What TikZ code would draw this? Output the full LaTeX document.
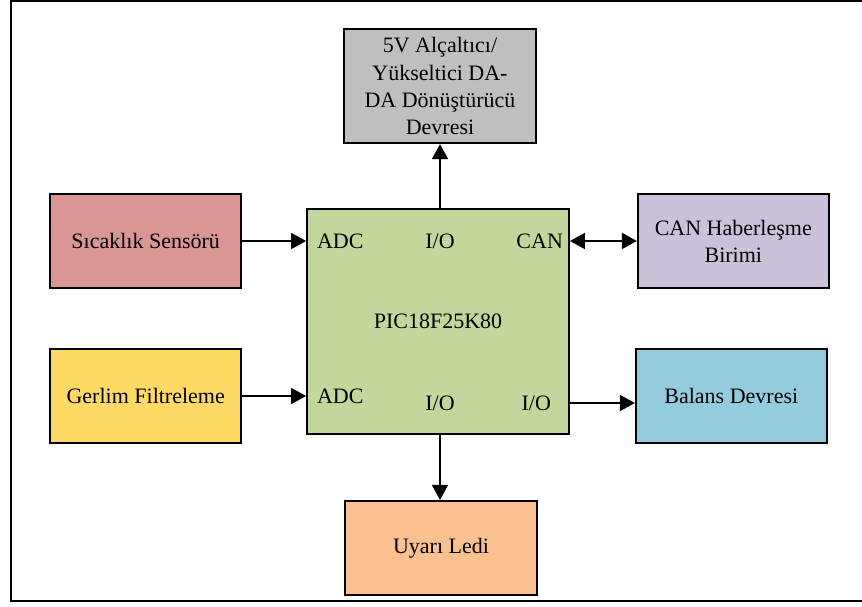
\documentclass[tikz,border=0pt]{standalone}
\usepackage{fontspec}
\setmainfont{Liberation Serif}
\usetikzlibrary{positioning,arrows.meta}

\definecolor{sensorred}{HTML}{D99694}
\definecolor{filteryellow}{HTML}{FFD966}
\definecolor{picgreen}{HTML}{C3D69B}
\definecolor{canpurple}{HTML}{CCC1DA}
\definecolor{balansblue}{HTML}{93CDDD}
\definecolor{ledorange}{HTML}{FAC090}
\definecolor{dcgrey}{HTML}{BFBFBF}

\begin{document}
\begin{tikzpicture}[
                x=0.5pt, y=-0.5pt,
                node distance=32pt,
                font=\fontsize{11}{13.6}\selectfont,
                block/.style={
                    rectangle,
                    draw,
                    line width=0.9pt,
                    align=center,
                    minimum width=95.5pt,
                    minimum height=47pt
                },
                label/.style={
                    inner sep=3.3pt
                },
                line/.style={
                    draw,
                    line width=0.8pt,
                    -{Triangle[length=7.5pt,width=8pt]}
                },
                frame/.style={
                    draw,
                    line width=1pt
                }]

                \useasboundingbox (0,0) rectangle (862,606);
                \draw [frame] (870,1) -- (11,1) -- (11,601) -- (870,601);

                \node [block, fill=picgreen, minimum width=131pt, minimum height=112.5pt] (pic) at (438,321.5) {PIC18F25K80};

                \node [block, fill=dcgrey, inner sep=1pt, minimum width=96pt, minimum height=57pt, above=32pt of pic, xshift=1pt] (donusturucu) {5V Alçaltıcı/\\Yükseltici DA-\\DA Dönüştürücü\\Devresi};
                \node [block, fill=ledorange, minimum width=96pt, below=32.5pt of pic, xshift=1.5pt] (uyari) {Uyarı Ledi};

                \node [block, fill=sensorred, left=32pt of pic, yshift=40.25pt] (sicaklik) {Sıcaklık Sensörü};
                \node [block, fill=filteryellow, left=32pt of pic, yshift=-37.25pt] (gerlim) {Gerlim Filtreleme};

                \node [block, fill=canpurple, right=33.5pt of pic, yshift=40.25pt] (can) {CAN Haberleşme\\Birimi};
                \node [block, fill=balansblue, right=32.5pt of pic, yshift=-37.25pt] (balans) {Balans Devresi};

                % pin labels inside the controller
                \node [label, anchor=west] (adc_a) at ([xshift=2pt]sicaklik -| pic.west) {ADC};
                \node [label] (io_a) at (sicaklik -| donusturucu) {I/O};
                \node [label, anchor=east] (can_pin) at (can -| pic.east) {CAN};

                \node [label, anchor=west] (adc_b) at ([xshift=2pt]gerlim -| pic.west) {ADC};
                \node [label] (io_b) at ([yshift=-3.5pt]gerlim -| donusturucu) {I/O};
                \node [label, anchor=east] (io_c) at ([xshift=-6pt]io_b -| pic.east) {I/O};

                \draw [line] (sicaklik) -- (sicaklik -| pic.west);
                \draw [line] (gerlim) -- (gerlim -| pic.west);

                \draw [line, {Triangle[length=7.5pt,width=8pt]}-{Triangle[length=7.5pt,width=8pt]}] (can_pin -| pic.east) -- (can_pin -| can.west);
                \draw [line] (io_c -| pic.east) -- (io_c -| balans.west);

                \draw [line] (pic.north -| donusturucu) -- (donusturucu);
                \draw [line] (pic.south -| io_b) -- (io_b |- uyari.north);

            \end{tikzpicture}
\end{document}
